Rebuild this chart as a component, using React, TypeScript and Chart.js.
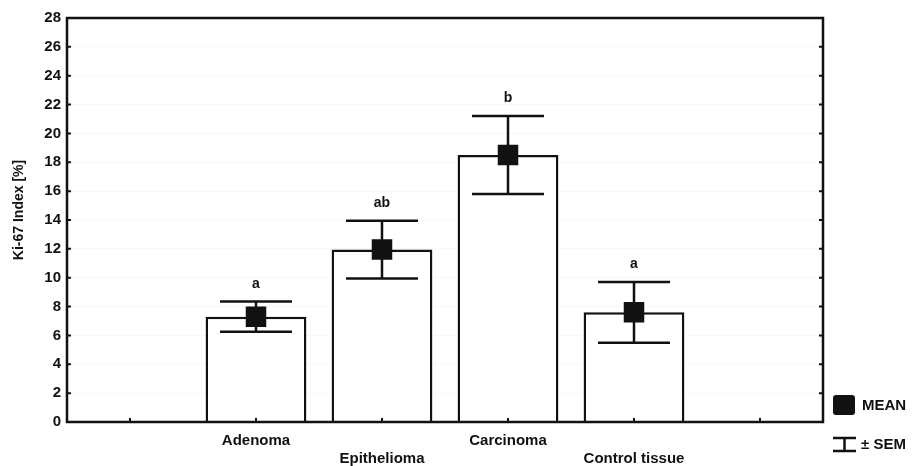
import React, { useEffect, useRef } from "react";
import { Chart, registerables } from "chart.js";

Chart.register(...registerables);

const categories = ["Adenoma", "Epithelioma", "Carcinoma", "Control tissue"];
const meanValues = [7.3, 11.95, 18.5, 7.6];
const semValues = [1.05, 2.0, 2.7, 2.1];
const groupLetters = ["a", "ab", "b", "a"];
const yTitle = "Ki-67 Index [%]";
const legendMean = "MEAN";
const legendSem = "± SEM";

const FONT = "'Liberation Sans', Arial, sans-serif";

export default function App() {
  const ref = useRef<HTMLCanvasElement | null>(null);

  useEffect(() => {
    if (!ref.current) return;
    const labels = ["", ...categories, ""];
    const padded = [null, ...meanValues, null];

    const decor = {
      id: "decor",
      afterDatasetDraw(chart: any, args: any) {
        if (args.index !== 0) return;
        const ctx = chart.ctx;
        const xs = chart.scales.x;
        const ys = chart.scales.y;
        ctx.save();
        ctx.strokeStyle = "#111";
        ctx.lineWidth = 2.5;
        ctx.fillStyle = "#111";
        ctx.font = `bold 14px ${FONT}`;
        ctx.textAlign = "center";
        ctx.textBaseline = "alphabetic";
        meanValues.forEach((m, i) => {
          const x = xs.getPixelForValue(i + 1);
          const top = ys.getPixelForValue(m + semValues[i]);
          const bot = ys.getPixelForValue(m - semValues[i]);
          const half = 36;
          ctx.beginPath();
          ctx.moveTo(x, top);
          ctx.lineTo(x, bot);
          ctx.moveTo(x - half, top);
          ctx.lineTo(x + half, top);
          ctx.moveTo(x - half, bot);
          ctx.lineTo(x + half, bot);
          ctx.stroke();
          ctx.fillText(groupLetters[i], x, top - 14);
        });
        ctx.restore();
      },
      afterDatasetsDraw(chart: any) {
        const ctx = chart.ctx;
        const a = chart.chartArea;
        const xs = chart.scales.x;
        const ys = chart.scales.y;
        ctx.save();
        ctx.strokeStyle = "#111";
        ctx.lineWidth = 2.5;
        ctx.strokeRect(a.left, a.top, a.right - a.left, a.bottom - a.top);
        ctx.lineWidth = 2;
        ctx.beginPath();
        ys.ticks.forEach((t: any) => {
          const y = ys.getPixelForValue(t.value);
          ctx.moveTo(a.left, y);
          ctx.lineTo(a.left + 4, y);
          ctx.moveTo(a.right, y);
          ctx.lineTo(a.right - 4, y);
        });
        for (let i = 0; i < labels.length; i++) {
          const x = xs.getPixelForValue(i);
          ctx.moveTo(x, a.bottom);
          ctx.lineTo(x, a.bottom - 4);
        }
        ctx.stroke();
        ctx.restore();
      },
      afterDraw(chart: any) {
        const ctx = chart.ctx;
        ctx.save();
        ctx.fillStyle = "#111";
        ctx.strokeStyle = "#111";
        ctx.translate(19, 210);
        ctx.rotate(-Math.PI / 2);
        ctx.font = `bold 14px ${FONT}`;
        ctx.textAlign = "center";
        ctx.textBaseline = "middle";
        ctx.fillText(yTitle, 0, 0);
        ctx.setTransform(1, 0, 0, 1, 0, 0);
        ctx.beginPath();
        ctx.roundRect(833, 395, 22, 20, 3);
        ctx.fill();
        ctx.font = `bold 15px ${FONT}`;
        ctx.textAlign = "left";
        ctx.textBaseline = "middle";
        ctx.fillText(legendMean, 862, 406);
        ctx.lineWidth = 2.5;
        ctx.beginPath();
        ctx.moveTo(833, 438);
        ctx.lineTo(856, 438);
        ctx.moveTo(844.5, 438);
        ctx.lineTo(844.5, 451);
        ctx.moveTo(833, 451);
        ctx.lineTo(856, 451);
        ctx.stroke();
        ctx.fillText(legendSem, 861, 445);
        ctx.restore();
      },
    };

    const chart = new Chart(ref.current, {
      type: "bar",
      data: {
        labels,
        datasets: [
          {
            type: "bar",
            data: padded,
            backgroundColor: "#ffffff",
            borderColor: "#111111",
            borderWidth: 2.5,
            barPercentage: 0.8,
            categoryPercentage: 1,
            order: 2,
          } as any,
          {
            type: "line",
            data: padded,
            showLine: false,
            pointStyle: "rect",
            pointRadius: 14.5,
            pointBackgroundColor: "#111111",
            pointBorderColor: "#111111",
            pointBorderWidth: 0,
            order: 1,
          } as any,
        ],
      },
      plugins: [decor],
      options: {
        animation: false,
        responsive: false,
        layout: { padding: { top: 18, right: 90, left: 0, bottom: 0 } },
        plugins: { legend: { display: false }, tooltip: { enabled: false } },
        scales: {
          x: {
            type: "category",
            offset: true,
            grid: { display: false, drawTicks: false },
            border: { display: false },
            ticks: {
              autoSkip: false,
              maxRotation: 0,
              minRotation: 0,
              padding: 9,
              color: "#111",
              font: { family: FONT, size: 15, weight: "bold", lineHeight: 1.25 },
              callback: (_v: any, i: number) => {
                const l = labels[i];
                if (!l) return "";
                return i % 2 === 1 ? [l, ""] : ["", l];
              },
            },
            afterFit: (s: any) => {
              s.height = 44;
            },
          },
          y: {
            min: 0,
            max: 28,
            grid: { drawTicks: false, color: "rgba(0,0,0,0.03)" },
            border: { display: false },
            ticks: {
              stepSize: 2,
              padding: 6,
              color: "#111",
              font: { family: FONT, size: 15, weight: "bold" },
            },
            afterFit: (s: any) => {
              s.width = 67;
            },
          },
        },
      },
    } as any);
    return () => chart.destroy();
  }, []);

  return (
    <div style={{ position: "absolute", left: 0, top: 0, width: 913, height: 466, background: "#fff" }}>
      <canvas ref={ref} width={913} height={466} />
    </div>
  );
}
